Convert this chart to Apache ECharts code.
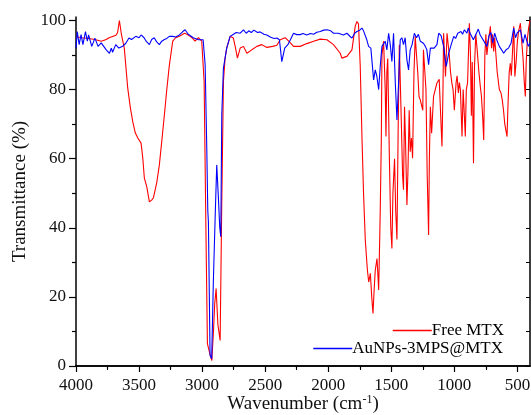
<!DOCTYPE html>
<html>
<head>
<meta charset="utf-8">
<script src="https://cdn.jsdelivr.net/npm/echarts@6/dist/echarts.min.js"></script>
<style>html,body{margin:0;padding:0;background:#fff}#c{width:531px;height:415px}</style>
</head>
<body>
<div id="c"></div>
<script>
// Free MTX: wavenumber (cm-1) and transmittance (%)
const freeWn = [4000,3950,3900,3850,3800,3760,3738,3700,3683,3670,3656,3640,3617,3590,3570,3550,3530,3510,3484,3470,3458,3439,3418,3400,3386,3360,3339,3320,3299,3280,3260,3233,3210,3180,3140,3120,3095,3075,3056,3029,3003,2984,2970,2958,2945,2935,2923,2910,2900,2889,2875,2857,2845,2831,2818,2805,2778,2752,2735,2720,2698,2672,2645,2606,2566,2526,2487,2440,2407,2381,2341,2300,2275,2222,2170,2116,2063,2010,1958,1905,1892,1852,1812,1786,1773,1760,1746,1733,1720,1706,1690,1679,1666,1655,1645,1636,1627,1613,1600,1590,1587,1579,1574,1561,1548,1542,1535,1528,1515,1504,1495,1487,1474,1465,1455,1445,1436,1429,1420,1410,1403,1395,1387,1376,1368,1363,1358,1350,1340,1331,1320,1310,1300,1290,1280,1270,1257,1250,1245,1235,1225,1215,1204,1198,1190,1180,1165,1150,1138,1120,1111,1098,1090,1085,1078,1070,1064,1058,1050,1040,1030,1020,1010,1000,994,986,978,968,960,952,939,930,920,913,905,895,881,872,865,858,848,840,830,820,805,794,785,775,767,758,750,742,730,714,705,697,688,680,670,660,643,630,620,610,600,595,582,575,565,556,548,540,529,520,510,500,490,476,468,455,445,437,430,420,410,400];
const freeT = [95.3,95.0,94.8,94.5,94.0,94.5,95.0,95.5,95.7,96.5,100,96,92,80.5,75,70.7,67.5,66,64.5,60,54.4,51.9,47.5,48,48.7,53,58.2,65,72.7,80,87,94,95,95.4,96.3,96,95.4,94.8,94,95,94,82.3,40,6.5,6.5,3,1.6,10,18,22.4,12,7.4,45,82.3,89,92,95.4,94.9,92,89.1,92,92.5,90.5,91.5,92.5,93,92.2,92.5,92.8,94.4,95,93.5,92.5,92.5,93.3,94,94.6,94.4,93,90.5,89.1,89.6,91.5,98.3,99.7,99,86.7,67,50,36.4,28,24.3,26.8,20,15.2,22,27.7,31.1,22,40,46,65.4,90,94,80,66.4,85,89,60,40,34,50,60,45,36.6,70,93,93.4,70,55,51,75,65,46.6,56,56.2,74,62,66,60.1,85,95.4,90,85,78,77,77.3,74,91.5,92,80,55,37.9,60,75,67.4,78,78,81.9,83,82.5,63.5,80,96.3,90,83.8,84,96.3,96,90,85,82,80,74,74,82,84,79,82,80,66.4,80,80,66.4,80,82,99.2,90,72.4,88,58.7,86.7,96,92,85,80.9,78,72,65.4,90,96,90,94,98.3,92,96,91,95,90,85,80,79,77,74,70,69.8,66.4,75,85,87.6,84,90,98.3,83.8,88,94,97,99.2,95,89,82,78,88,95,98,100];

// AuNPs-3MPS@MTX: wavenumber (cm-1) and transmittance (%)
const auWn = [4000,3990,3975,3960,3945,3925,3910,3900,3875,3850,3825,3800,3760,3735,3720,3710,3685,3660,3630,3605,3580,3560,3526,3500,3484,3460,3444,3418,3400,3380,3360,3339,3320,3299,3280,3260,3233,3210,3180,3153,3135,3110,3095,3070,3056,3029,2992,2976,2963,2955,2950,2945,2937,2924,2911,2895,2884,2870,2860,2852,2844,2831,2805,2778,2760,2752,2730,2698,2672,2650,2630,2610,2590,2560,2540,2510,2487,2460,2430,2407,2387,2368,2360,2345,2320,2300,2275,2250,2222,2200,2170,2140,2116,2090,2063,2036,2010,1980,1958,1940,1920,1905,1880,1852,1830,1812,1790,1773,1750,1733,1720,1694,1680,1662,1640,1627,1615,1600,1587,1574,1561,1548,1535,1521,1508,1495,1482,1468,1455,1442,1429,1416,1403,1390,1376,1363,1350,1335,1317,1300,1285,1270,1245,1230,1218,1204,1190,1160,1138,1124,1105,1085,1064,1045,1025,1005,990,973,947,935,920,900,890,875,860,849,825,810,795,780,741,725,710,695,680,665,643,625,609,590,570,550,529,515,500,476,455,440,413,400];
const auT = [92,96.8,93,95.9,93,96.8,94,95.8,92.5,94.9,92.5,93.5,91.5,90.5,92,90.8,93,92,92.5,93.4,94.9,94.5,95.4,95,95.8,95,94,93,94.5,95,93.8,93,94,94.5,94.8,95.4,95.4,95.2,95.8,96.8,97.3,96,95.8,95,94.9,94.4,94.4,87.2,63,45,41.7,41.5,3.1,2.1,24.3,45,58.2,48,40,37.4,72.7,86.2,92,95.4,95.8,96.3,96.5,96.3,97.3,96.3,97,96.5,97.2,96.5,96.7,96,95.8,95.2,94.8,94.9,94.4,88.1,88.1,92,93,94.4,96.3,95.9,95.9,96.2,95.8,96.2,96,96.6,96.8,97.2,97.3,97,96.3,96.3,96.3,96.3,95.8,96.3,95.5,94.9,96.3,96.8,97.2,97.8,97,94.4,92.5,92,82.8,85.7,84,80,87,92.5,92.5,94,91.5,96.3,93,88.1,96.3,81.9,71.2,82,94.4,95,93,95,88.6,85.7,91.5,93,96.3,95,96,94,93.4,92.5,91.5,87.2,92,92,93,96.3,95.6,92.5,86.7,90.5,93,95.4,94.8,96.3,96.8,96,97.3,96.3,97.8,96.3,96.5,94.4,96.3,97.5,95.8,96.3,92.5,95.6,96.5,93.5,96.3,94.5,92.5,91.5,90.5,91.5,92,93.5,97.8,95,96.5,97.3,93.4,96,92.5,93.5];

const xMajor = [4000,3500,3000,2500,2000,1500,1000,500];
const xMinor = [3750,3250,2750,2250,1750,1250,750];
const yMajor = [0,20,40,60,80,100];
const yMinor = [10,30,50,70,90];

const FONT = 'Liberation Serif';
const AX = '#000';
const fmt = v => String(v);

const chart = echarts.init(document.getElementById('c'), null, {renderer:'canvas'});
const noSplit = {show:false};
function xBase(extra){
  return Object.assign({type:'value', inverse:true, min:400, max:4000, splitLine:noSplit, gridIndex:0}, extra);
}
function yBase(extra){
  return Object.assign({type:'value', min:0, max:101, splitLine:noSplit, gridIndex:0}, extra);
}
chart.setOption({
  animation:false,
  backgroundColor:'#fff',
  textStyle:{fontFamily:FONT},
  grid:{left:76, right:1, top:17, bottom:49, containLabel:false, outerBoundsMode:'none'},
  legend:[
    {data:['Free MTX'], right:22, top:317, icon:'rect', itemWidth:39, itemHeight:1.3, itemGap:0,
     textStyle:{fontFamily:FONT, fontSize:17, color:'#000', padding:[0,0,0,-5]}},
    {data:['AuNPs-3MPS@MTX'], right:23, top:335, icon:'rect', itemWidth:39, itemHeight:1.3, itemGap:0,
     textStyle:{fontFamily:FONT, fontSize:17, color:'#000', padding:[0,0,0,-5]}}
  ],
  xAxis:[
    xBase({position:'bottom',
      axisLine:{show:true, lineStyle:{color:AX, width:1.5}},
      axisTick:{show:true, inside:false, length:6, customValues:xMajor, lineStyle:{color:AX, width:1.2}},
      axisLabel:{customValues:xMajor, formatter:fmt, fontFamily:FONT, fontSize:17, color:'#111', margin:11},
      name:'Wavenumber (cm{sup|-1})', nameLocation:'middle', nameGap:28, nameMoveOverlap:false,
      nameTextStyle:{fontFamily:FONT, fontSize:19, color:'#111',
        rich:{sup:{fontFamily:FONT, fontSize:12, color:'#111', padding:[0,0,9,0]}}}
    }),
    xBase({position:'bottom',
      axisLine:{show:false},
      axisTick:{show:true, inside:false, length:3, customValues:xMinor, lineStyle:{color:AX, width:1.2}},
      axisLabel:{show:false}
    }),
    xBase({position:'top',
      axisLine:{show:true, lineStyle:{color:AX, width:1.5}},
      axisTick:{show:true, inside:true, length:4, customValues:xMajor.concat(xMinor), lineStyle:{color:AX, width:1}},
      axisLabel:{show:false}
    })
  ],
  yAxis:[
    yBase({position:'left',
      axisLine:{show:true, lineStyle:{color:AX, width:1.5}},
      axisTick:{show:true, inside:false, length:7, customValues:yMajor, lineStyle:{color:AX, width:1.2}},
      axisLabel:{customValues:yMajor, formatter:fmt, fontFamily:FONT, fontSize:17, color:'#111', margin:10},
      name:'Transmittance (%)', nameLocation:'middle', nameGap:46, nameMoveOverlap:false,
      nameTextStyle:{fontFamily:FONT, fontSize:19, color:'#111'}
    }),
    yBase({position:'left',
      axisLine:{show:false},
      axisTick:{show:true, inside:false, length:4, customValues:yMinor, lineStyle:{color:AX, width:1.2}},
      axisLabel:{show:false}
    }),
    yBase({position:'right',
      axisLine:{show:true, lineStyle:{color:AX, width:1.5}},
      axisTick:{show:true, inside:true, length:4, customValues:yMajor.concat(yMinor), lineStyle:{color:AX, width:1}},
      axisLabel:{show:false}
    })
  ],
  series:[
    {name:'Free MTX', type:'line', xAxisIndex:0, yAxisIndex:0, symbol:'none',
     lineStyle:{color:'#ff0000', width:1.1}, itemStyle:{color:'#ff0000'},
     data:freeWn.map((w,i)=>[w, freeT[i]])},
    {name:'AuNPs-3MPS@MTX', type:'line', xAxisIndex:0, yAxisIndex:0, symbol:'none',
     lineStyle:{color:'#0000ff', width:1.1}, itemStyle:{color:'#0000ff'},
     data:auWn.map((w,i)=>[w, auT[i]])}
  ]
});
</script>
</body>
</html>
